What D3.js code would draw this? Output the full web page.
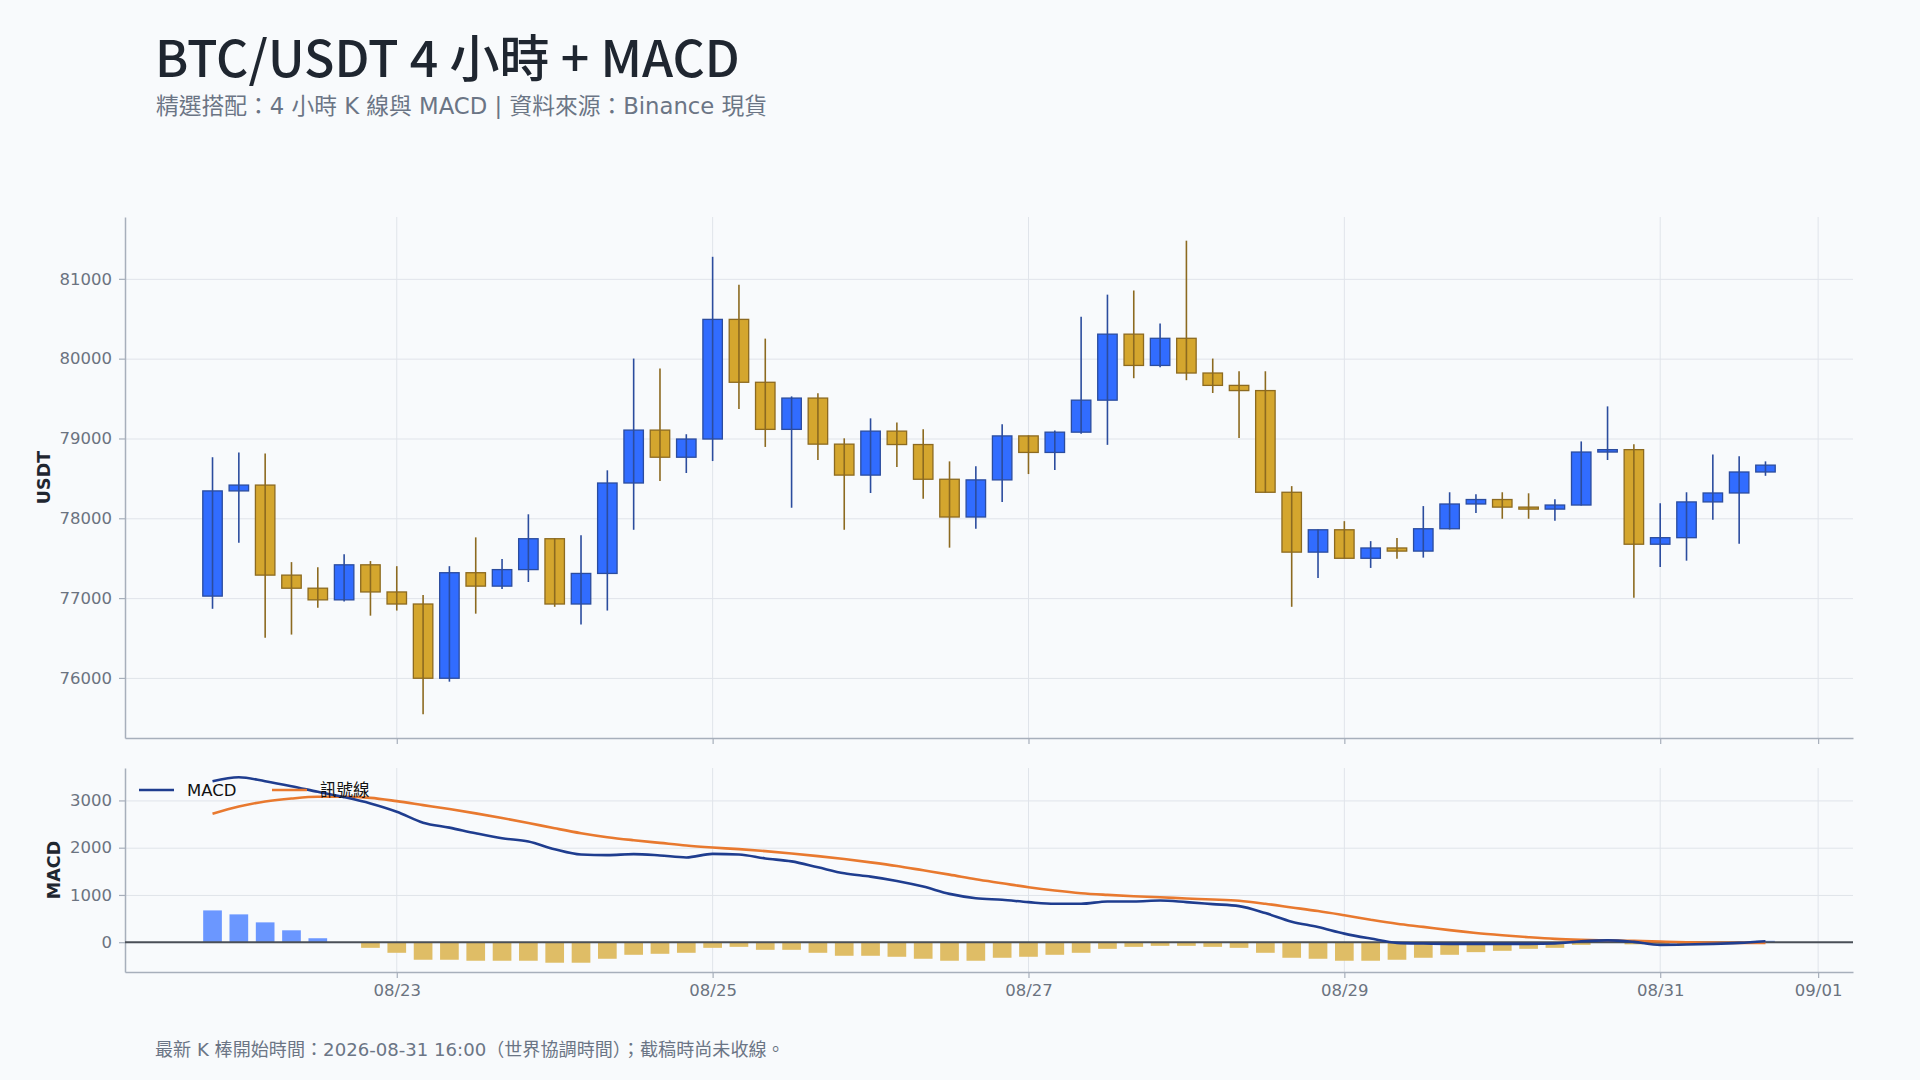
<!DOCTYPE html>
<html><head><meta charset="utf-8">
<script src="https://cdn.jsdelivr.net/npm/d3@7"></script>
<style>
html,body{margin:0;padding:0;background:#f8fafc;}
svg{display:block;}
</style></head><body>
<svg id="chart" width="1920" height="1080"></svg>
<script>
// ---------- data ----------
const candleTimes = [
 "08-21 20:00",
 "08-22 00:00","08-22 04:00","08-22 08:00","08-22 12:00","08-22 16:00","08-22 20:00",
 "08-23 00:00","08-23 04:00","08-23 08:00","08-23 12:00","08-23 16:00","08-23 20:00",
 "08-24 00:00","08-24 04:00","08-24 08:00","08-24 12:00","08-24 16:00","08-24 20:00",
 "08-25 00:00","08-25 04:00","08-25 08:00","08-25 12:00","08-25 16:00","08-25 20:00",
 "08-26 00:00","08-26 04:00","08-26 08:00","08-26 12:00","08-26 16:00","08-26 20:00",
 "08-27 00:00","08-27 04:00","08-27 08:00","08-27 12:00","08-27 16:00","08-27 20:00",
 "08-28 00:00","08-28 04:00","08-28 08:00","08-28 12:00","08-28 16:00","08-28 20:00",
 "08-29 00:00","08-29 04:00","08-29 08:00","08-29 12:00","08-29 16:00","08-29 20:00",
 "08-30 00:00","08-30 04:00","08-30 08:00","08-30 12:00","08-30 16:00","08-30 20:00",
 "08-31 00:00","08-31 04:00","08-31 08:00","08-31 12:00","08-31 16:00"
];
const opens  = [77025,78343,78416,77288,77124,76978,77417,77077,76926,75996,77318,77150,77357,77744,76926,77309,78442,79105,78765,78993,
                80492,79704,79114,79506,78929,78541,79092,78924,78489,78016,78481,79032,78825,79079,79480,80307,79915,80255,79820,79665,
                79600,78326,77576,77856,77499,77628,77589,77869,78179,78235,78140,78115,78166,78830,78860,77675,77757,78205,78317,78580];
const highs  = [78765,78825,78812,77451,77387,77550,77464,77400,77038,77400,77761,77490,78050,77750,77787,78601,80001,79876,79053,81276,
                80927,80251,79527,79566,79002,79252,79200,79114,78713,78653,79178,79040,79101,80526,80802,80854,80440,81478,80001,79842,
                79842,78403,77860,77964,77714,77753,78153,78326,78300,78326,78313,78240,78963,79402,78929,78188,78326,78799,78778,78713];
const lows   = [76866,77693,76504,76543,76879,76956,76780,76844,75544,75953,76805,77115,77202,76891,76668,76844,77856,78468,78567,78717,
                79368,78894,78132,78730,77856,78317,78644,78244,77632,77869,78205,78554,78606,79058,78920,79755,79893,79730,79570,79006,
                78320,76891,77253,77495,77378,77494,77507,77860,78067,77994,77994,77968,78160,78730,77003,77391,77469,77981,77680,78532];
const closes = [78343,78416,77288,77124,76978,77417,77077,76926,75996,77318,77150,77357,77744,76926,77309,78442,79105,78765,78993,80492,
                79704,79114,79506,78929,78541,79092,78924,78489,78016,78481,79032,78825,79079,79480,80307,79915,80255,79820,79665,79600,
                78326,77576,77856,77499,77628,77589,77869,78179,78235,78140,78115,78166,78830,78860,77675,77757,78205,78317,78580,78666];

const macdLine   = [3406,3490,3406,3301,3182,3069,2936,2761,2530,2425,2306,2201,2130,1969,1857,1843,1864,1836,1794,1870,
                    1857,1773,1710,1584,1458,1388,1296,1177,1023,932,897,848,813,813,862,862,883,848,806,764,
                    617,435,322,182,77,-14,-28,-35,-35,-35,-35,-28,20,40,7,-56,-49,-35,-14,21];
const signalLine = [2719,2873,2978,3041,3077,3077,3055,2985,2901,2817,2726,2628,2523,2411,2306,2222,2158,2102,2046,2004,
                    1969,1927,1878,1822,1759,1689,1612,1521,1430,1331,1247,1163,1093,1037,1002,974,953,925,904,876,
                    813,736,659,570,477,392,325,255,195,147,105,70,50,38,28,14,0,-7,-14,-14];
const histogram  = [673,589,420,252,84,-10,-119,-224,-371,-371,-392,-392,-392,-434,-434,-350,-266,-245,-224,-119,
                    -98,-161,-161,-224,-287,-287,-308,-350,-392,-392,-329,-308,-266,-224,-140,-98,-77,-77,-98,-119,
                    -224,-329,-350,-392,-392,-371,-329,-266,-210,-182,-140,-119,-56,0,-45,-60,-50,-30,-10,30];

const priceTicks = [76000,77000,78000,79000,80000,81000];
const macdTicks  = [0,1000,2000,3000];

const titleText    = "BTC/USDT 4 小時 + MACD";
const subtitleText = "精選搭配：4 小時 K 線與 MACD | 資料來源：Binance 現貨";
const footerText   = "最新 K 棒開始時間：2026-08-31 16:00（世界協調時間）；截稿時尚未收線。";
const legendItems  = ["MACD","訊號線"];

// ---------- layout ----------
const L = 125, R = 1853;
const P = {top:217, bottom:738};
const Q = {top:768, bottom:972};
const CJK = "'Noto Sans CJK TC','Noto Sans CJK SC',sans-serif";
const MIX = "'DejaVu Sans','Noto Sans CJK TC',sans-serif";
const AX = "'DejaVu Sans',sans-serif";

const svg = d3.select("#chart");
svg.append("rect").attr("width",1920).attr("height",1080).attr("fill","#f8fafc");

const parse = d3.utcParse("%Y-%m-%d %H:%M");
const dates = candleTimes.map(s => parse("2026-" + s));
const candles = dates.map((d,i)=>({d, o:opens[i], h:highs[i], l:lows[i], c:closes[i],
  m:macdLine[i], s:signalLine[i], hist:histogram[i]}));

const padT = 13.3*3600e3;
const x = d3.scaleUtc().domain([+dates[0]-padT, +dates[dates.length-1]+padT]).range([L,R]);
const lo = d3.min(lows), hi = d3.max(highs), rg = hi-lo;
const y = d3.scaleLinear().domain([lo-0.05*rg, hi+0.05*rg]).range([P.bottom,P.top]);
const allM = macdLine.concat(signalLine, histogram);
const mlo = d3.min(allM), mhi = d3.max(allM), mr = mhi-mlo;
const ym = d3.scaleLinear().domain([mlo-0.05*mr, mhi+0.05*mr]).range([Q.bottom,Q.top]);

const step = x(dates[1]) - x(dates[0]);
const bodyW = step*0.74, histW = step*0.71;
const dayTicks = x.ticks(d3.utcDay.every(2));
const gridC = "#e0e4ea", axisC = "#a7afbb", tickTxt = "#6b7380";

// ---------- grids ----------
function grid(top,bottom,scale,vals){
  const g = svg.append("g");
  g.selectAll("line.h").data(vals).join("line")
    .attr("x1",L).attr("x2",R).attr("y1",d=>scale(d)+0.5).attr("y2",d=>scale(d)+0.5)
    .attr("stroke",gridC).attr("stroke-width",1);
  g.selectAll("line.v").data(dayTicks).join("line")
    .attr("x1",d=>x(d)).attr("x2",d=>x(d)).attr("y1",top).attr("y2",bottom)
    .attr("stroke",gridC).attr("stroke-width",1);
}
grid(P.top,P.bottom,y,priceTicks);
grid(Q.top,Q.bottom,ym,macdTicks);

// ---------- axes ----------
function styleAxis(g){
  g.selectAll(".domain").attr("stroke",axisC).attr("stroke-width",1.5);
  g.selectAll(".tick line").attr("stroke",axisC).attr("stroke-width",1.2);
  g.selectAll(".tick text").attr("fill",tickTxt).style("font-family",AX).style("font-size","16.5px");
}
svg.append("g").attr("transform",`translate(${L},0)`)
  .call(d3.axisLeft(y).tickValues(priceTicks).tickFormat(d3.format("d")).tickSize(6).tickPadding(7).tickSizeOuter(0))
  .call(styleAxis);
svg.append("g").attr("transform",`translate(0,${P.bottom})`)
  .call(d3.axisBottom(x).tickValues(dayTicks).tickFormat("").tickSize(6).tickSizeOuter(0))
  .call(styleAxis);
svg.append("g").attr("transform",`translate(${L},0)`)
  .call(d3.axisLeft(ym).tickValues(macdTicks).tickFormat(d3.format("d")).tickSize(6).tickPadding(7).tickSizeOuter(0))
  .call(styleAxis);
svg.append("g").attr("transform",`translate(0,${Q.bottom})`)
  .call(d3.axisBottom(x).tickValues(dayTicks).tickFormat(d3.utcFormat("%m/%d")).tickSize(6).tickPadding(6).tickSizeOuter(0))
  .call(styleAxis);

// axis titles
svg.append("text").attr("transform",`translate(50,${(P.top+P.bottom)/2}) rotate(-90)`)
  .attr("text-anchor","middle").style("font-family",AX).style("font-weight","bold").style("font-size","17.5px")
  .attr("fill","#1f2630").text("USDT");
svg.append("text").attr("transform",`translate(60,${(Q.top+Q.bottom)/2}) rotate(-90)`)
  .attr("text-anchor","middle").style("font-family",AX).style("font-weight","bold").style("font-size","17.5px")
  .attr("fill","#1f2630").text("MACD");

// ---------- candles ----------
const upFill="#316cff", upStroke="#2b4c9e", dnFill="#d4a62e", dnStroke="#8c6a20";
const cg = svg.append("g");
const cs = cg.selectAll("g").data(candles).join("g");
cs.append("rect")
  .attr("x",d=>x(d.d)-bodyW/2).attr("width",bodyW)
  .attr("y",d=>y(Math.max(d.o,d.c)))
  .attr("height",d=>Math.max(1.5, Math.abs(y(d.o)-y(d.c))))
  .attr("fill",d=>d.c>=d.o?upFill:dnFill)
  .attr("stroke",d=>d.c>=d.o?upStroke:dnStroke).attr("stroke-width",1.3);
cs.append("line")
  .attr("x1",d=>x(d.d)).attr("x2",d=>x(d.d))
  .attr("y1",d=>y(d.h)).attr("y2",d=>y(d.l))
  .attr("stroke",d=>d.c>=d.o?upStroke:dnStroke).attr("stroke-width",1.6);

// ---------- MACD panel ----------
svg.append("g").selectAll("rect").data(candles).join("rect")
  .attr("x",d=>x(d.d)-histW/2).attr("width",histW)
  .attr("y",d=>ym(Math.max(0,d.hist))).attr("height",d=>Math.abs(ym(d.hist)-ym(0)))
  .attr("fill",d=>d.hist>=0?"#6b97ff":"#dfbd66");
svg.append("line").attr("x1",L).attr("x2",R).attr("y1",ym(0)).attr("y2",ym(0))
  .attr("stroke","#4a4f57").attr("stroke-width",2);
const lineM = d3.line().x(d=>x(d.d)).y(d=>ym(d.m)).curve(d3.curveMonotoneX);
const lineS = d3.line().x(d=>x(d.d)).y(d=>ym(d.s)).curve(d3.curveMonotoneX);
svg.append("path").datum(candles).attr("d",lineS).attr("fill","none").attr("stroke","#e8792f").attr("stroke-width",2.6);
svg.append("path").datum(candles).attr("d",lineM).attr("fill","none").attr("stroke","#1f3d8f").attr("stroke-width",2.6);

// legend
const lgX = [139, 272], lgC = ["#1f3d8f","#e8792f"];
legendItems.forEach((t,i)=>{
  svg.append("line").attr("x1",lgX[i]).attr("x2",lgX[i]+35).attr("y1",790).attr("y2",790)
    .attr("stroke",lgC[i]).attr("stroke-width",2.6);
  svg.append("text").attr("x",lgX[i]+48).attr("y",796)
    .style("font-family", MIX).style("font-size","16.5px").attr("fill","#111").text(t);
});

// ---------- titles ----------
svg.append("text").attr("x",155).attr("y",77).style("font-family",CJK).style("font-weight","500")
  .style("font-size","50px").attr("fill","#1f2630").text(titleText);
svg.append("text").attr("x",156).attr("y",114).style("font-family",MIX)
  .style("font-size","22.75px").attr("fill","#6b7585").text(subtitleText);
svg.append("text").attr("x",155).attr("y",1056).style("font-family",MIX)
  .style("font-size","18.1px").attr("fill","#6b7585").text(footerText);
</script>
</body></html>
